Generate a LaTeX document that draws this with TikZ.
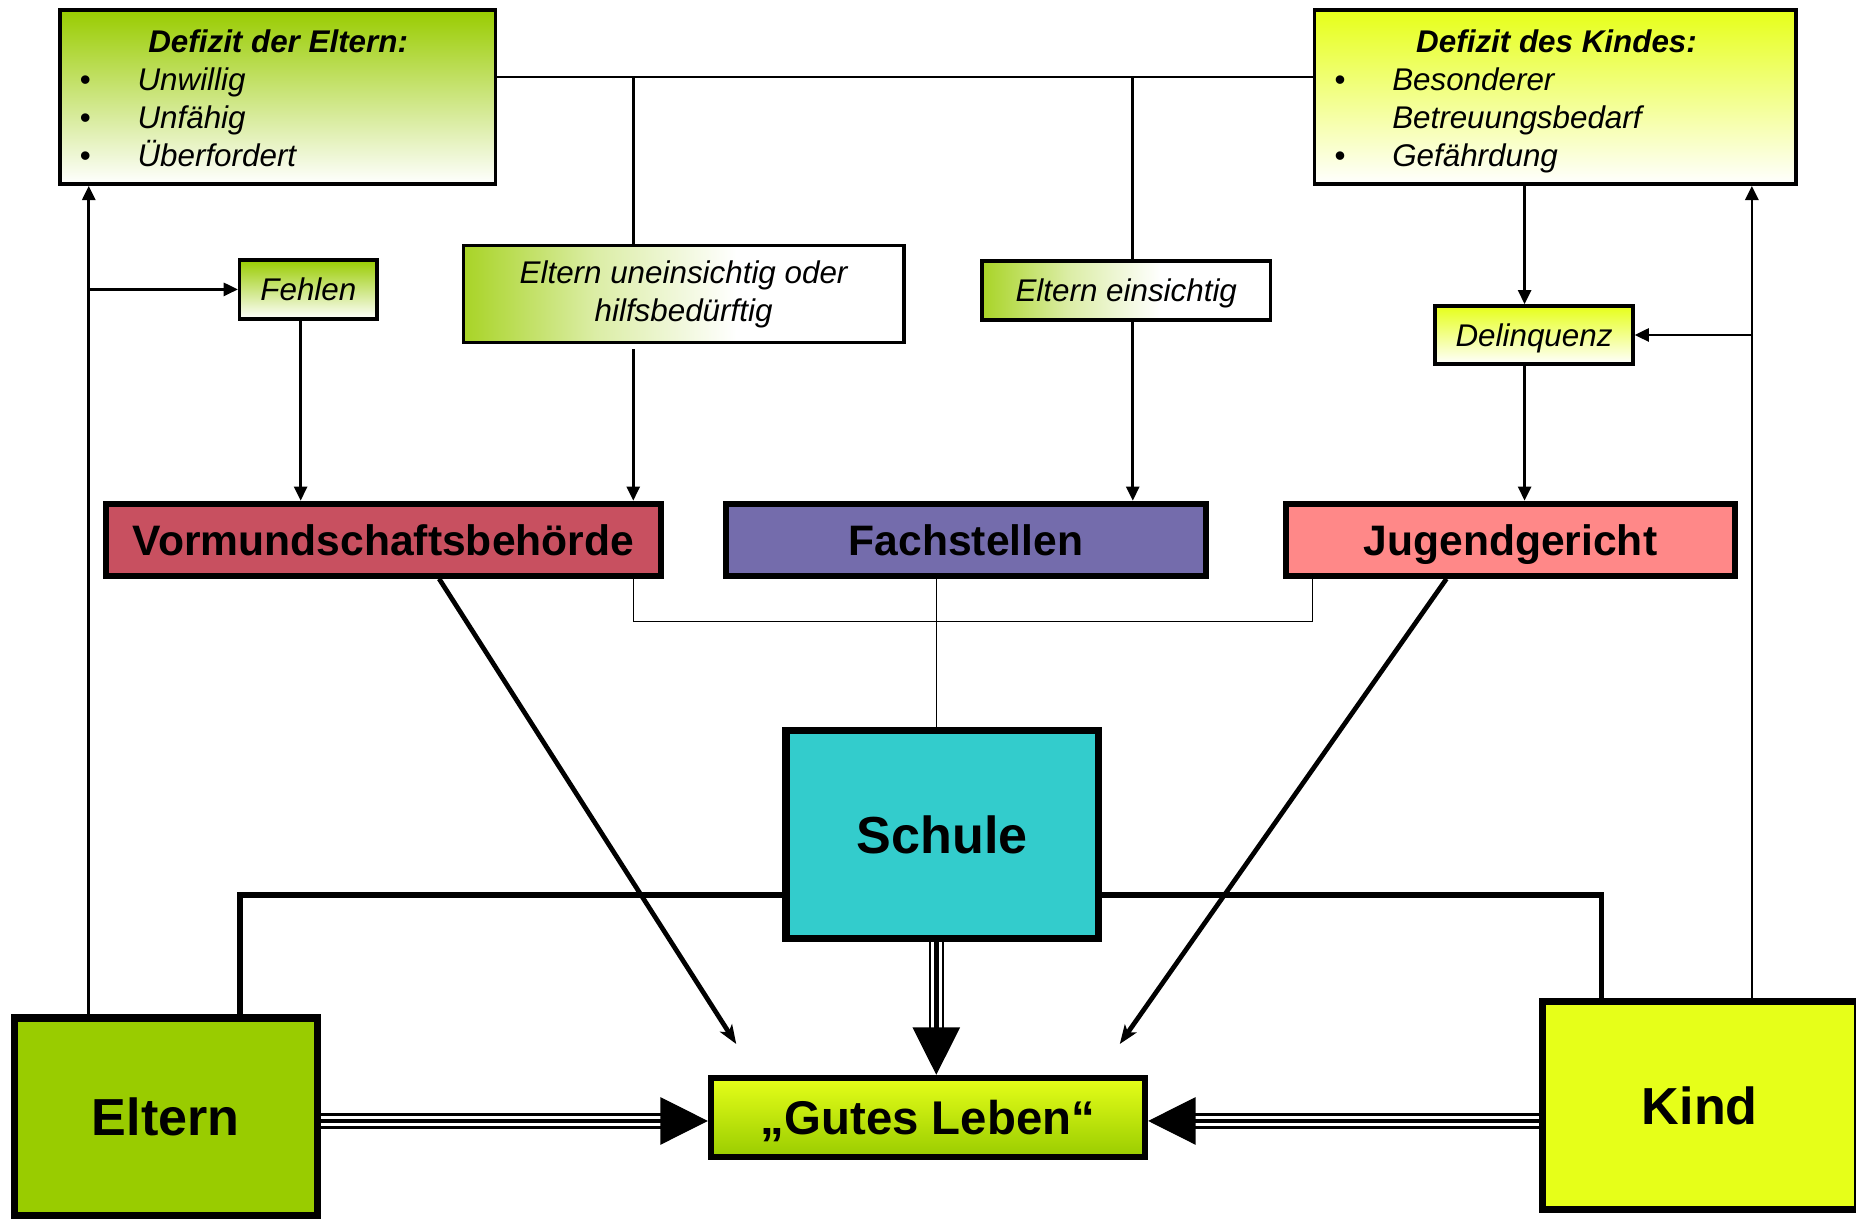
\documentclass[tikz,border=0pt]{standalone}
\usepackage{fontspec}
\setmainfont{Liberation Sans}
\usetikzlibrary{arrows.meta,calc}
\definecolor{egreen}{RGB}{153,204,0}
\definecolor{kyellow}{RGB}{230,255,25}
\definecolor{vcol}{RGB}{200,80,96}
\definecolor{fcol}{RGB}{116,108,172}
\definecolor{jcol}{RGB}{255,136,136}
\definecolor{scol}{RGB}{51,204,204}
\pgfdeclarehorizontalshading{gfade}{100bp}{color(0bp)=(egreen); color(25bp)=(egreen!85); color(40bp)=(egreen!35); color(56bp)=(white); color(100bp)=(white)}
\begin{document}
\begin{tikzpicture}[x=1pt,y=-1pt,
  smallfont/.style={font=\fontsize{26.5}{32}\selectfont\itshape},
  titlefont/.style={font=\fontsize{26.5}{32}\selectfont\bfseries\itshape},
  topbox/.style={draw, line width=3pt, inner sep=0pt, minimum height=147pt},
  lbl/.style={draw, line width=3pt, inner sep=0pt, font=\fontsize{26.5}{32}\selectfont\itshape, align=center},
  lblone/.style={lbl, text height=19pt, text depth=0pt},
  midbox/.style={draw, line width=5pt, inner sep=0pt, minimum height=61pt, font=\fontsize{36}{40}\selectfont\bfseries, text height=25.8pt, text depth=0pt},
  bigbox/.style={draw, line width=6pt, inner sep=0pt, font=\fontsize{44}{48}\selectfont\bfseries, text height=31.5pt, text depth=0pt},
  conn/.style={line width=2.3pt, -{Triangle[length=12pt,width=11pt]}},
  plain/.style={line width=2.3pt},
  thinl/.style={line width=1.3pt},
  thickl/.style={line width=5pt},
  diag/.style={line width=4pt, -{Stealth[length=16pt,width=12pt,inset=4pt]}},
  triple/.style={line width=13pt, draw=black, postaction={draw=white, line width=9pt}, postaction={draw=black, line width=4pt}},
  bigtip/.style={line width=1pt, -{Triangle[length=40pt,width=40pt]}}
]
\useasboundingbox (0,0) rectangle (1568,1031.5);

% coordinates
\coordinate (topbus) at (0,65);
\coordinate (j1) at (535,65);
\coordinate (j2) at (957,65);
\coordinate (xe) at (75,0);
\coordinate (xf) at (254,0);
\coordinate (xd) at (1288,0);
\coordinate (xk) at (1480,0);
\coordinate (xb) at (1109,0);
\coordinate (br) at (0,525);
\coordinate (sb) at (791,0);
\coordinate (yt) at (0,756);
\coordinate (xl) at (203,0);
\coordinate (xr) at (1353,0);
\coordinate (ya) at (0,947);
\coordinate (xv) at (371,0);
\coordinate (xjg) at (1222,0);
\coordinate (d1) at (622,882);
\coordinate (d2) at (946,882);

% top boxes
\node[topbox, minimum width=368pt, top color=egreen, bottom color=white] (defE) at (234.5,82) {};
\node[titlefont, anchor=base] (defEt) at (235,44.5) {Defizit der Eltern:};
\node[smallfont, anchor=base] (defEb1) at (72,76.5) {•};
\node[smallfont, anchor=base] (defEb2) at (72,108.5) {•};
\node[smallfont, anchor=base] (defEb3) at (72,140.5) {•};
\node[smallfont, anchor=base west, inner sep=0pt] (defE1) at (116,76.5) {Unwillig};
\node[smallfont, anchor=base west, inner sep=0pt] (defE2) at (116,108.5) {Unfähig};
\node[smallfont, anchor=base west, inner sep=0pt] (defE3) at (116,140.5) {Überfordert};

\node[topbox, minimum width=407pt, top color=kyellow, bottom color=white] (defK) at (1314,82) {};
\node[titlefont, anchor=base] (defKt) at (1315,44.5) {Defizit des Kindes:};
\node[smallfont, anchor=base] (defKb1) at (1132,76.5) {•};
\node[smallfont, anchor=base] (defKb3) at (1132,140.5) {•};
\node[smallfont, anchor=base west, inner sep=0pt] (defK1) at (1176,76.5) {Besonderer};
\node[smallfont, anchor=base west, inner sep=0pt] (defK2) at (1176,108.5) {Betreuungsbedarf};
\node[smallfont, anchor=base west, inner sep=0pt] (defK3) at (1176,140.5) {Gefährdung};

% label boxes
\node[lblone, minimum width=116pt, minimum height=50pt, top color=egreen, bottom color=white] (fehlen) at (260.5,244.5) {Fehlen};
\node[lbl, minimum width=372pt, minimum height=82pt, shading=gfade] (unein) at (577.5,248.5) {Eltern uneinsichtig oder\\hilfsbedürftig};
\node[lblone, minimum width=244pt, minimum height=50pt, shading=gfade] (einsicht) at (951.5,245.5) {Eltern einsichtig};
\node[lblone, minimum width=167pt, minimum height=49pt, top color=kyellow, bottom color=white] (delinq) at (1296,283) {Delinquenz};

% middle boxes
\node[midbox, minimum width=469pt, fill=vcol] (vormund) at (324,456) {Vormundschaftsbehörde};
\node[midbox, minimum width=405pt, fill=fcol] (fach) at (816,456) {Fachstellen};
\node[midbox, minimum width=379pt, fill=jcol] (jugend) at (1276,456) {Jugendgericht};

% bottom boxes
\node[bigbox, minimum width=264pt, minimum height=176pt, fill=scol] (schule) at (796,705) {Schule};
\node[draw, line width=5pt, inner sep=0pt, minimum width=367pt, minimum height=67pt, top color=kyellow, bottom color=egreen, font=\fontsize{40}{44}\selectfont\bfseries, text height=28.6pt, text depth=0pt] (gutes) at (784,944) {„Gutes Leben“};
\node[bigbox, minimum width=256pt, minimum height=167pt, fill=egreen] (eltern) at (140,943.5) {Eltern};
\node[bigbox, minimum width=266pt, minimum height=176pt, fill=kyellow] (kind) at (1436,934) {Kind};

% top connectors
\draw[plain] (defE.east |- topbus) -- (defK.west |- topbus);
\draw[plain] (j1) -- (j1 |- unein.north);
\draw[plain] (j2) -- (j2 |- einsicht.north);
\draw[conn] ($(j1 |- unein.south)+(0,4)$) -- (j1 |- vormund.north);
\draw[conn] (j2 |- einsicht.south) -- (j2 |- vormund.north);
\draw[conn] (xe |- eltern.north) -- (xe |- defE.south);
\draw[conn] (xe |- fehlen.west) -- (fehlen.west);
\draw[conn] (xf |- fehlen.south) -- (xf |- vormund.north);
\draw[conn] (xd |- defK.south) -- (xd |- delinq.north);
\draw[conn] (xd |- delinq.south) -- (xd |- jugend.north);
\draw[conn] (xk |- kind.north) -- (xk |- defK.south);
\draw[conn] (xk |- delinq.east) -- (delinq.east);

% thin connectors
\draw[thinl] (j1 |- vormund.south) -- (j1 |- br) -- (xb |- br) -- (xb |- jugend.south);
\draw[thinl] (sb |- fach.south) -- (sb |- schule.north);

% thick connectors
\draw[thickl] (xl |- eltern.north) -- (xl |- yt) -- (schule.west |- yt);
\draw[thickl] (schule.east |- yt) -- (xr |- yt) -- (xr |- kind.north);

% diagonals
\draw[diag] (xv |- vormund.south) -- (d1);
\draw[diag] (xjg |- jugend.south) -- (d2);

% triple arrows
\draw[triple] (sb |- schule.south) -- ($(sb |- gutes.north)+(0,-39)$);
\draw[bigtip] ($(sb |- gutes.north)+(0,-41)$) -- (sb |- gutes.north);
\draw[triple] (eltern.east |- ya) -- ($(gutes.west |- ya)+(-39,0)$);
\draw[bigtip] ($(gutes.west |- ya)+(-41,0)$) -- (gutes.west |- ya);
\draw[triple] (kind.west |- ya) -- ($(gutes.east |- ya)+(39,0)$);
\draw[bigtip] ($(gutes.east |- ya)+(41,0)$) -- (gutes.east |- ya);
\end{tikzpicture}
\end{document}
